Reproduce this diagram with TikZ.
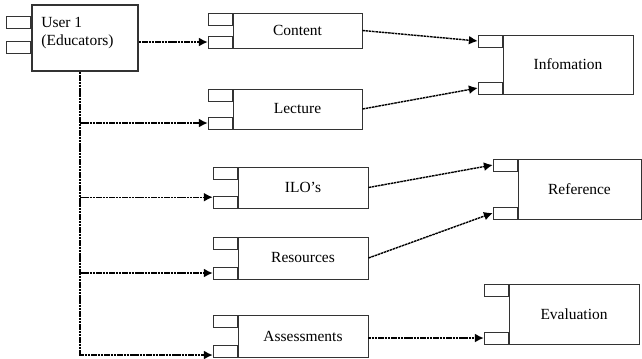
\documentclass[tikz,border=0pt]{standalone}
\usepackage{fontspec}
\setmainfont{Liberation Serif}
\usetikzlibrary{arrows.meta}
\begin{document}
\begin{tikzpicture}[x=0.025cm, y=-0.025cm, font=\fontsize{11}{12.5}\selectfont]
        \tikzstyle{block}=[draw=black!80, line width=0.6pt, inner sep=0pt];
        \tikzstyle{port}=[draw=black!80, line width=0.6pt, inner sep=0pt, minimum width=0.6cm, minimum height=0.3cm];
        \tikzstyle{link}=[line width=1pt, dash pattern=on 1.8pt off 0.5pt, -{Latex[length=2.2mm,width=2.2mm]}];
        \useasboundingbox (0,0) rectangle (642,358);

        \node[block, line width=1.2pt, minimum width=2.65cm, minimum height=1.65cm] (user) at (85,38) {};
        \node[anchor=north west, align=left, inner sep=0pt] (usertext) at ([xshift=0.25cm, yshift=-0.33cm]user.north west) {User 1\\(Educators)};
        \node[port, anchor=north east] (u1) at ([yshift=-0.3cm]user.north west) {};
        \node[port, anchor=south east] (u2) at ([yshift=0.45cm]user.south west) {};

        \node[block, minimum width=3.225cm, minimum height=0.875cm] (content) at (297.5,30.5) {Content};
        \node[port, anchor=north east] (c1) at (content.north west) {};
        \node[port, anchor=south east] (c2) at (content.south west) {};

        \node[block, minimum width=3.225cm, minimum height=1cm] (lecture) at (297.5,109) {Lecture};
        \node[port, anchor=north east] (l1) at (lecture.north west) {};
        \node[port, anchor=south east] (l2) at (lecture.south west) {};

        \node[block, minimum width=3.25cm, minimum height=1.025cm] (ilo) at (303,187.5) {ILO’s};
        \node[port, anchor=north east] (i1) at (ilo.north west) {};
        \node[port, anchor=south east] (i2) at (ilo.south west) {};

        \node[block, minimum width=3.25cm, minimum height=1.05cm] (res) at (303,258) {Resources};
        \node[port, anchor=north east] (r1) at (res.north west) {};
        \node[port, anchor=south east] (r2) at (res.south west) {};

        \node[block, minimum width=3.25cm, minimum height=1.05cm] (assess) at (303,336) {Assessments};
        \node[port, anchor=north east] (a1) at (assess.north west) {};
        \node[port, anchor=south east] (a2) at (assess.south west) {};

        \node[block, minimum width=3.25cm, minimum height=1.475cm] (info) at (568,64.5) {Infomation};
        \node[port, anchor=north east] (n1) at (info.north west) {};
        \node[port, anchor=south east] (n2) at (info.south west) {};

        \node[block, minimum width=3.075cm, minimum height=1.5cm] (ref) at (579.5,189) {Reference};
        \node[port, anchor=north east] (f1) at (ref.north west) {};
        \node[port, anchor=south east] (f2) at (ref.south west) {};

        \node[block, minimum width=3.25cm, minimum height=1.5cm] (eval) at (574,314) {Evaluation};
        \node[port, anchor=north east] (e1) at (eval.north west) {};
        \node[port, anchor=south east] (e2) at (eval.south west) {};

        \coordinate (trunk) at ([xshift=-0.125cm]user.south);
        \coordinate (aend) at ([yshift=-0.1cm]a2.west);
        \coordinate (iend) at ([yshift=0.12cm]i2.west);
        \draw[link] (user.east |- c2.west) -- (c2.west);
        \draw[link] (trunk) |- (aend);
        \draw[link] (trunk |- l2.west) -- (l2.west);
        \draw[link] (trunk |- iend) -- (iend);
        \draw[link] (trunk |- r2.west) -- (r2.west);

        \draw[link] (content.east) -- (n1.west);
        \draw[link] (lecture.east) -- (n2.west);
        \draw[link] (ilo.east) -- (f1.west);
        \draw[link] (res.east) -- (f2.west);
        \draw[link] (assess.east |- e2.west) -- (e2.west);
\end{tikzpicture}
\end{document}
